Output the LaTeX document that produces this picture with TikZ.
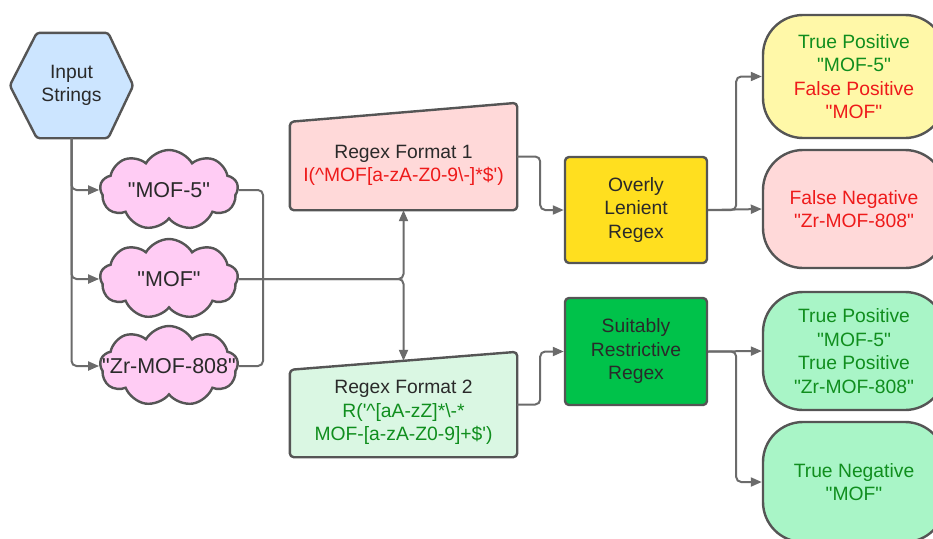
\documentclass[tikz,border=0pt]{standalone}
\usepackage{fontspec}
\setmainfont{Liberation Sans}[Ligatures=TeXOff]
\usetikzlibrary{arrows.meta,shapes.symbols,calc}
\definecolor{linec}{HTML}{6B6B6B}
\definecolor{edgec}{HTML}{555555}
\definecolor{txt}{HTML}{2A2A2A}
\definecolor{hexfill}{HTML}{CCE5FF}
\definecolor{cloudfill}{HTML}{FFCCF4}
\definecolor{pinkfill}{HTML}{FFD9D9}
\definecolor{mintfill}{HTML}{DAF7E3}
\definecolor{goldfill}{HTML}{FFDF1F}
\definecolor{greenfill}{HTML}{00C24A}
\definecolor{lyellow}{HTML}{FFF8A8}
\definecolor{lgreen}{HTML}{A9F5C7}
\definecolor{gtext}{HTML}{108E1E}
\definecolor{rtext}{HTML}{EE1A1A}
\begin{document}
\begin{tikzpicture}[x=1pt,y=-1pt,
  every node/.style={font=\fontsize{19.3}{23.5}\selectfont, text=txt, align=center, inner sep=0pt},
  frame/.style={draw=none, minimum width=#1, inner sep=0pt},
  shapeline/.style={draw=edgec, line width=2.4pt, line join=round},
  conn/.style={draw=linec, line width=2pt, rounded corners=5pt},
  arr/.style={conn, -{Triangle[length=11pt,width=9pt]}},
  cloudbox/.style={cloud, cloud puffs=9, cloud puff arc=120, aspect=1.9, draw=edgec, line width=2.4pt, fill=cloudfill, minimum width=138pt, minimum height=80pt, inner sep=0pt},
  cloudtext/.style={font=\fontsize{21.5}{25}\selectfont},
  boxr/.style={rectangle, rounded corners=4pt, shapeline, minimum width=142pt},
  stad/.style={rectangle, rounded corners=40pt, shapeline, minimum width=182pt}
]
\useasboundingbox (0,0) rectangle (933,538);
\clip (0,0) rectangle (933,538);

% Input hexagon
\node[frame, minimum width=123pt, minimum height=105pt] (hexb) at (71.5,85.5) {};
\filldraw[shapeline, fill=hexfill, rounded corners=3pt] (hexb.west) -- ([xshift=27pt]hexb.north west) -- ([xshift=-25pt]hexb.north east) -- (hexb.east) -- ([xshift=-25pt]hexb.south east) -- ([xshift=27pt]hexb.south west) -- cycle;
\node (hex) at (hexb.center) {Input\\Strings};

% clouds
\node[cloudbox] (c1) at (169,190) {};
\node[cloudtext] (t1) at (c1.center) {"MOF-5"};
\node[cloudbox] (c2) at (169,279) {};
\node[cloudtext] (t2) at (c2.center) {"MOF"};
\node[cloudbox] (c3) at (169,366) {};
\node[cloudtext] (t3) at (c3.center) {"Zr-MOF-808"};

% Regex format boxes (manual input trapezoids)
\node[frame, minimum width=227pt, minimum height=107pt] (r1b) at (403.5,156.5) {};
\filldraw[shapeline, fill=pinkfill, rounded corners=4pt] (r1b.south west) -- (r1b.south east) -- (r1b.north east) -- ([yshift=-19pt]r1b.north west) -- cycle;
\node (r1) at (403.5,165.5) {Regex Format 1\\\textcolor{rtext}{I(\^{}MOF[a-zA-Z0-9\textbackslash-]*\$')}};

\node[frame, minimum width=227pt, minimum height=105pt] (r2b) at (403.5,404.5) {};
\filldraw[shapeline, fill=mintfill, rounded corners=4pt] (r2b.south west) -- (r2b.south east) -- (r2b.north east) -- ([yshift=-18pt]r2b.north west) -- cycle;
\node (r2) at (403.5,412.5) {Regex Format 2\\\textcolor{gtext}{R('\^{}[aA-zZ]*\textbackslash-*}\\\textcolor{gtext}{MOF-[a-zA-Z0-9]+\$')}};
\coordinate (r2top) at ([yshift=-9pt]r2b.north);

% middle boxes
\node[boxr, fill=goldfill, minimum height=106pt] (ol) at (636,210) {Overly\\Lenient\\Regex};
\node[boxr, fill=greenfill, minimum height=107pt] (sr) at (636,351.5) {Suitably\\Restrictive\\Regex};

% outcome stadiums
\node[stad, fill=lyellow, minimum height=123pt] (o1) at (854,76.5) {\textcolor{gtext}{True Positive}\\\textcolor{gtext}{"MOF-5"}\\\textcolor{rtext}{False Positive}\\\textcolor{rtext}{"MOF"}};
\node[stad, fill=pinkfill, minimum height=118pt] (o2) at (854,209) {\textcolor{rtext}{False Negative}\\\textcolor{rtext}{"Zr-MOF-808"}};
\node[stad, fill=lgreen, minimum height=118pt] (o3) at (854,351) {\textcolor{gtext}{True Positive}\\\textcolor{gtext}{"MOF-5"}\\\textcolor{gtext}{True Positive}\\\textcolor{gtext}{"Zr-MOF-808"}};
\node[stad, fill=lgreen, minimum height=120pt] (o4) at (854,482) {\textcolor{gtext}{True Negative}\\\textcolor{gtext}{"MOF"}};

% connectors: input to clouds
\draw[arr] (hexb.south) |- (c1.west);
\draw[arr] (hexb.south) |- (c2.west);
\draw[arr] (hexb.south) |- (c3.west);

% clouds to regex formats
\coordinate (jn) at (263,279);
\draw[conn] (c1.east) -| (jn);
\draw[conn] (c3.east) -| (jn);
\draw[arr] (c2.east) -| (r1b.south);
\draw[arr] (c2.east) -| (r2top);

% regex formats to middle boxes
\draw[arr] (r1b.east) -- ++(23,0) |- (ol.west);
\draw[arr] (r2b.east) -- ++(23,0) |- (sr.west);

% middle boxes to outcomes
\draw[arr] (ol.east) -- ++(28,0) |- (o1.west);
\draw[arr] (ol.east) -- (o2.west);
\draw[arr] (sr.east) -- (o3.west);
\draw[arr] (sr.east) -- ++(28,0) |- (o4.west);
\end{tikzpicture}
\end{document}
